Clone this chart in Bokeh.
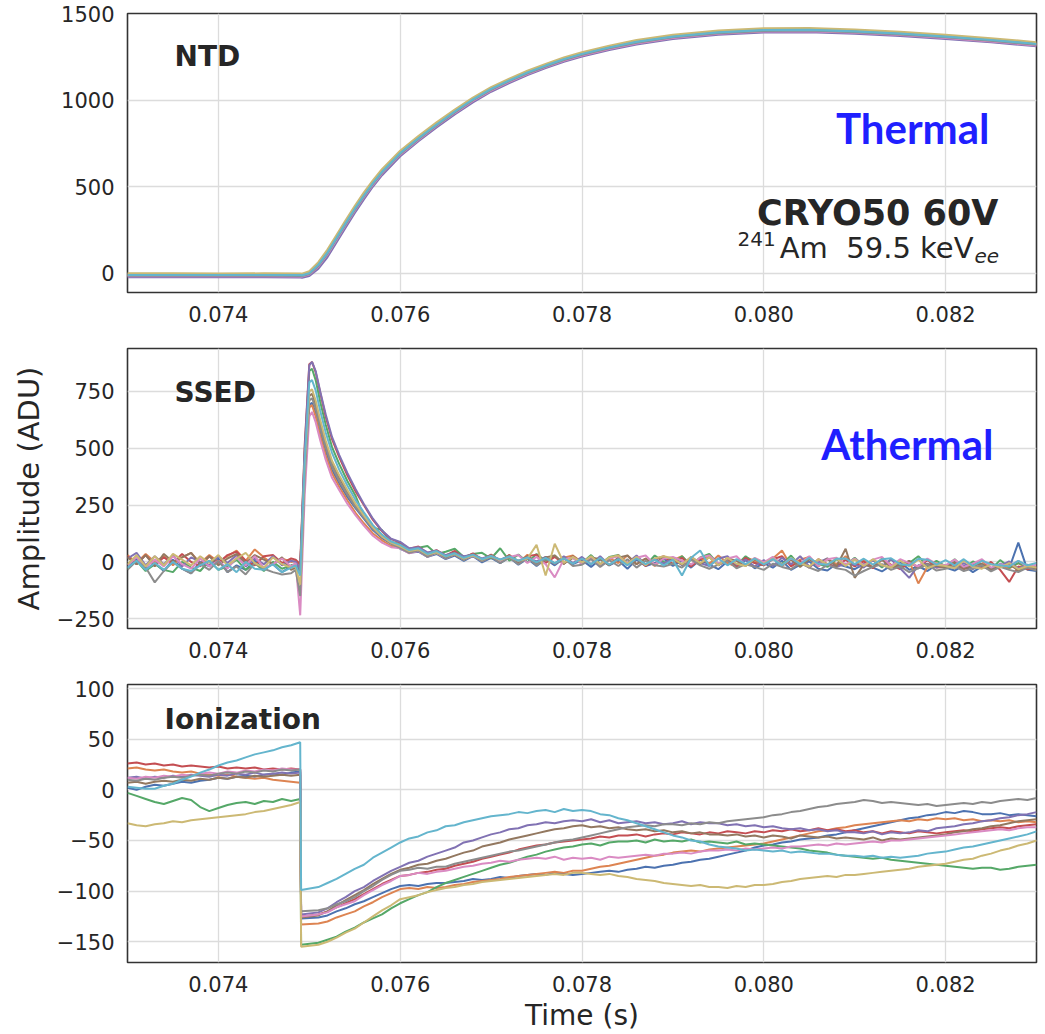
import numpy as np
from bokeh.plotting import figure
from bokeh.models import Range1d, FixedTicker, CustomJSTickFormatter, Label
from bokeh.layouts import column
from bokeh.embed import file_html
from bokeh.resources import INLINE

# ---------------- styling constants ----------------
trace_names = ["blue", "orange", "green", "red", "purple", "brown", "pink", "gray", "tan", "cyan"]
trace_colors = ["#4C72B0", "#DD8452", "#55A868", "#C44E52", "#8172B3",
                "#937860", "#DA8BC3", "#8C8C8C", "#CCB974", "#64B5CD"]

x_ticks = [0.074, 0.076, 0.078, 0.080, 0.082]
ntd_yticks = [0, 500, 1000, 1500]
ssed_yticks = [-250, 0, 250, 500, 750]
ion_yticks = [-150, -100, -50, 0, 50, 100]

# ---------------- NTD (thermal) ----------------
t_ntd = [0.0730, 0.0735, 0.0740, 0.0745, 0.0749, 0.07492, 0.0750, 0.0751, 0.0752, 0.0753,
         0.0754, 0.0755, 0.0756, 0.0757, 0.0758, 0.0760, 0.0762, 0.0764, 0.0766, 0.0768,
         0.0770, 0.0772, 0.0774, 0.0776, 0.0778, 0.0780, 0.0783, 0.0786, 0.0790, 0.0795,
         0.0800, 0.0805, 0.0810, 0.0815, 0.0820, 0.0825, 0.0830]
ntd_blue = [-12,-11,-12,-12,-13,-14,-3,45,114,199,284,366,444,516,582,690,775,855,930,1000,1060,1110,1155,1195,1232,1262,1300,1332,1363,1387,1400,1402,1393,1380,1363,1343,1320]
ntd_orange = [-6,-7,-6,-5,-7,-8,4,53,123,208,293,375,453,525,590,698,783,863,938,1008,1068,1118,1163,1203,1240,1270,1308,1340,1371,1395,1408,1410,1401,1388,1371,1351,1328]
ntd_green = [-8,-9,-8,-8,-9,-10,2,50,121,206,291,373,451,523,588,696,781,861,936,1006,1066,1116,1161,1201,1238,1268,1306,1338,1369,1393,1406,1408,1399,1386,1369,1349,1326]
ntd_red = [-14,-13,-14,-14,-15,-16,-4,43,112,197,282,364,442,514,580,688,773,853,928,998,1058,1108,1153,1193,1230,1260,1298,1330,1361,1385,1398,1400,1391,1378,1361,1341,1318]
ntd_purple = [-22,-21,-22,-22,-23,-24,-14,28,95,180,265,349,428,502,567,677,763,843,918,988,1049,1099,1145,1185,1222,1252,1290,1322,1354,1378,1391,1393,1384,1371,1354,1334,1311]
ntd_brown = [-10,-10,-10,-11,-11,-12,0,48,118,203,288,370,448,520,585,693,778,858,933,1003,1063,1113,1158,1198,1235,1265,1303,1335,1366,1390,1403,1405,1396,1383,1366,1346,1323]
ntd_pink = [-16,-16,-15,-16,-17,-18,-6,41,110,195,280,362,440,512,578,686,771,851,926,996,1056,1106,1151,1191,1228,1258,1296,1328,1359,1383,1396,1398,1389,1376,1359,1339,1316]
ntd_gray = [-13,-13,-13,-12,-14,-15,-3,45,115,200,285,367,445,517,582,690,775,855,930,1000,1060,1110,1155,1195,1232,1262,1300,1332,1363,1387,1400,1402,1393,1380,1363,1343,1320]
ntd_tan = [0,0,-1,0,-1,-2,12,65,137,222,307,389,466,537,601,708,792,871,945,1014,1074,1124,1169,1209,1246,1276,1314,1346,1377,1401,1414,1416,1407,1394,1377,1357,1334]
ntd_cyan = [-9,-9,-9,-9,-10,-11,1,50,120,205,290,372,449,521,586,694,779,859,934,1004,1064,1114,1159,1199,1236,1266,1304,1336,1367,1391,1404,1406,1397,1384,1367,1347,1324]

# ---------------- SSED (athermal) ----------------
t_ssed_pre = [round(0.0730 + 0.0001 * k, 5) for k in range(19)]
t_ssed_pulse = [0.07485, 0.07490, 0.07495, 0.07500, 0.07503, 0.07507, 0.07512, 0.07518,
                0.07525, 0.07533, 0.07542, 0.07551, 0.07560, 0.07570, 0.07580, 0.07590]
t_ssed_post = [round(0.0760 + 0.0001 * k, 5) for k in range(71)]
t_ssed = t_ssed_pre + t_ssed_pulse + t_ssed_post

ssed_blue = ([-25, 15, -35, -5, -40, 10, -30, -50, 0, -20, 15, -45, -15, -35, 5, -30, -10, -45, -20]
             + [-20, -40, 390, 690, 700, 655, 575, 490, 405, 345, 285, 235, 190, 140, 105, 80]
             + [58, 40, 45, 22, 35, 12, 28, 5, 25, -2,
                18, -5, 20, -12, 14, -18, 12, -15, 16, -10,
                8, -22, 12, -15, 6, -30, 10, -18, -5, 14,
                -18, 5, -25, 10, -12, -32, 2, -22, 8, -28,
                -5, -25, 5, -35, -12, 2, -30, -38, -8, -20,
                -32, -10, -25, -42, -15, 0, -35, -18, -40, -12,
                -25, -38, -15, -45, -20, -35, -8, -28, 85, -35, -40])
ssed_orange = ([30, -5, 35, 0, 25, -15, 20, 40, -5, 30, 0, 25, 50, 5, 55, 20, -10, 15, 0]
               + [5, -20, 400, 680, 690, 640, 555, 470, 390, 330, 270, 215, 170, 125, 95, 70]
               + [70, 45, 55, 28, 40, 18, 32, 10, 28, 5,
                  25, 0, 30, -5, 32, -10, 22, -8, 18, 28,
                  -2, 22, -15, 18, -5, 28, -10, 15, -18, 20,
                  8, 25, -15, 18, -8, 28, -5, -20, 20, 5,
                  -10, 15, 50, -18, 10, 22, -20, 12, -10, 25,
                  -15, 8, -25, 15, -12, -28, 5, -95, -22, -5,
                  -25, 10, -32, -10, 5, -38, -15, -28, -5, -32, -20])
ssed_green = ([-30, 5, -40, -10, -35, -45, 0, -25, -40, 5, -35, -20, 10, -35, -5, -40, 0, -30, -15]
              + [-10, -30, 480, 840, 850, 800, 705, 605, 505, 430, 355, 290, 200, 150, 140, 88]
              + [80, 52, 62, 70, 35, 45, 58, 22, 35, 40,
                 15, 60, 5, 32, -2, 35, 5, 28, -8, 25,
                 -5, 30, -10, 22, 30, -8, 20, -15, 28, 0,
                 -8, 25, -18, 20, 35, -10, 15, -15, 25, -5,
                 -15, 20, -10, 28, -18, 15, -8, -22, 12, -15,
                 18, -18, 8, -25, 12, -20, -5, 25, -18, 5,
                 -20, 12, -28, 2, -15, -32, 8, -25, -5, -20, -28])
ssed_red = ([25, -10, 30, -15, 20, -5, 35, 0, -20, 25, -5, 30, 45, 5, -15, 25, 30, -5, 15]
            + [10, -10, 520, 870, 880, 835, 745, 640, 540, 460, 380, 310, 250, 185, 135, 100]
            + [85, 58, 68, 38, 52, 28, 48, 18, 38, 10,
               32, 5, 30, -2, 25, 32, -5, 22, -8, 25,
               -5, 22, -15, 15, 28, -12, 20, -18, 12, 25,
               -10, 18, -20, 12, 28, -15, 10, -22, 18, -5,
               -15, 12, 25, -20, 5, -25, 12, -10, -22, 10,
               -20, 2, -28, 10, -15, -32, -5, -22, 8, -25,
               -22, -8, -32, -15, -28, 0, -35, -88, -20, -32, -28])
ssed_purple = ([15, 40, -15, 25, -10, 30, -20, 20, 0, -15, 25, -5, 30, -20, 15, -10, 25, -15, 5]
               + [0, -30, 500, 865, 880, 840, 750, 650, 550, 470, 390, 320, 255, 190, 138, 102]
               + [88, 60, 65, 42, 50, 30, 40, 25, 32, 15,
                  28, 10, 25, 5, 20, 2, 22, -8, 25, -5,
                  22, -10, 25, -15, 18, -5, 28, -12, 15, -8,
                  18, -15, 22, -5, -18, 15, 25, -12, 10, -20,
                  8, -18, 18, -10, 25, -20, -2, 15, -22, -8,
                  -12, -25, 8, -18, 12, -28, -70, -15, -8, -25,
                  -15, -28, -5, -32, -12, -35, -18, 2, -30, -12, -25])
ssed_brown = ([20, -10, 30, -20, 35, 0, 20, 40, -10, 25, -15, 15, 35, -5, 30, 10, -10, 20, -35]
              + [-25, -50, 410, 730, 740, 695, 610, 520, 435, 370, 305, 250, 200, 150, 110, 85]
              + [66, 45, 55, 28, 48, 20, 40, 15, 32, 8,
                 30, 2, 28, 0, 25, -5, 20, 28, -8, 18,
                 -8, 20, 12, -15, 18, 28, -10, 15, -12, 20,
                 12, -12, 18, -10, 22, -15, 15, 5, -18, 12,
                 -10, 18, -18, 10, -22, 12, -15, 15, -20, 58,
                 -70, -12, -22, 10, -25, -15, 5, -28, -10, -18,
                 -25, 0, -30, -15, -8, -35, -20, -10, -38, -22, -30])
ssed_pink = ([-15, 20, -25, 10, -20, 25, -10, -30, 15, -20, 5, -30, 20, -15, 25, -25, -10, 15, -20]
             + [-5, -235, 300, 640, 660, 615, 535, 450, 370, 315, 255, 205, 160, 115, 85, 65]
             + [60, 38, 48, 22, 40, 15, 35, 10, 28, 5,
                25, 0, 22, 30, -5, 22, -10, -68, 12, 18,
                -8, 22, -15, 15, 25, -5, 18, 28, -12, 15,
                22, 5, -12, 18, 28, -8, 15, 25, -15, 18,
                -2, 22, -15, 15, -8, 25, -18, 12, 18, -12,
                15, -15, 10, 22, -18, 12, -5, -20, 15, -10,
                -15, 10, -22, -8, 12, -25, -10, -18, 5, -22, -12])
ssed_gray = ([-35, 5, -25, -90, -40, 0, -30, -50, -10, -35, 5, -45, -20, -55, -5, -30, -45, -55, -50]
             + [-35, -150, 380, 710, 720, 675, 590, 505, 420, 355, 295, 240, 195, 145, 110, 80]
             + [62, 40, 50, 22, 42, 15, 35, 8, 30, 2,
                22, -5, 20, -10, 18, -15, 12, -8, 16, -18,
                -12, 12, -22, 8, -18, 12, -25, 5, -15, -20,
                -8, -25, 10, -15, -30, -12, 5, -28, -10, -22,
                -35, -8, -22, -32, -5, -25, -40, -12, -28, -35,
                -60, -40, -22, -10, -35, -20, -45, -28, -12, -38,
                -30, -18, -40, -28, -15, -42, -22, -35, -45, -25, -38])
ssed_tan = ([-10, 30, -20, 25, -15, 35, 10, -15, 25, -5, 30, -15, 15, 40, -5, -25, 20, -10, -25]
            + [-20, -100, 430, 750, 760, 710, 625, 535, 445, 380, 315, 255, 205, 152, 112, 85]
            + [68, 48, 55, 32, 42, 25, 35, 15, 28, 10,
               25, 8, 22, 5, 15, 75, -60, 80, -5, 22,
               -2, 25, -10, 20, 28, -8, 22, -15, 15, 25,
               15, -10, 22, -5, 20, -15, 18, -8, -18, 15,
               -8, 15, -15, 18, -5, -20, 12, -12, 15, -18,
               10, -18, 12, -15, -25, 5, -20, 10, -28, -12,
               -18, -28, 5, -22, -30, -10, -25, -5, -32, -18, -25])
ssed_cyan = ([-25, 5, -35, -5, -35, 0, -30, -40, -15, 5, -35, -10, -45, 0, -30, -35, -10, -45, -25]
             + [-15, -60, 450, 790, 800, 755, 665, 570, 480, 405, 335, 272, 218, 162, 120, 90]
             + [75, 52, 60, 35, 48, 25, 38, 18, 32, 12,
                26, 10, 24, 5, 20, -2, 18, -5, 16, -8,
                15, -10, 18, -12, 12, -15, 15, -10, 10, -15,
                10, -60, 18, 50, -18, 15, -15, 12, -10, 15,
                -12, 12, -15, 16, -10, 18, -8, -12, 14, 15,
                -10, 14, -12, 12, 16, -10, -15, 14, 10, -12,
                8, -15, 12, -18, 5, -10, -15, -20, 5, -15, -5])

# ---------------- Ionization ----------------
t_ion_pre = [round(0.0730 + 0.0001 * k, 5) for k in range(20)]
t_ion_post = [0.07491] + [round(0.0751 + 0.0001 * k, 5) for k in range(80)]
t_ion = t_ion_pre + t_ion_post

ion_blue = ([2, 0, 3, 5, 4, 6, 8, 7, 9, 10, 12, 11, 13, 14, 13, 15, 16, 15, 17, 18]
            + [-127, -126, -124, -120, -117, -113, -110, -106, -102, -98,
               -95, -94, -95, -93, -92, -92, -91, -90, -88, -89,
               -88, -86, -87, -85, -84, -83, -84, -82, -83, -84,
               -83, -82, -81, -80, -81, -79, -78, -76, -77, -75,
               -74, -72, -71, -69, -68, -66, -64, -62, -60, -57,
               -55, -54, -52, -51, -49, -48, -47, -45, -44, -42,
               -40, -38, -36, -34, -32, -30, -28, -27, -25, -24,
               -22, -23, -21, -22, -24, -24, -23, -25, -24, -25, -26])
ion_orange = ([21, 22, 20, 19, 20, 18, 17, 18, 16, 15, 14, 15, 13, 12, 11, 12, 10, 9, 8, 7]
              + [-133, -132, -130, -126, -123, -120, -115, -111, -106, -102,
                 -98, -97, -98, -96, -97, -96, -94, -93, -91, -90,
                 -89, -88, -86, -85, -84, -83, -82, -81, -82, -80,
                 -80, -78, -76, -75, -73, -71, -69, -67, -65, -64,
                 -62, -61, -60, -61, -59, -58, -57, -56, -55, -54,
                 -53, -51, -49, -47, -45, -43, -41, -40, -38, -37,
                 -35, -34, -33, -32, -31, -30, -31, -29, -30, -28,
                 -29, -28, -30, -29, -31, -30, -31, -30, -32, -31, -32])
ion_green = ([-3, -6, -9, -12, -14, -11, -8, -10, -17, -21, -18, -15, -13, -12, -14, -11, -12, -9, -11, -9]
             + [-153, -151, -148, -145, -140, -136, -131, -127, -123, -117,
                -112, -108, -104, -101, -96, -92, -89, -86, -83, -80,
                -77, -74, -72, -69, -66, -64, -61, -59, -57, -56,
                -54, -53, -55, -52, -51, -51, -50, -52, -49, -51,
                -50, -51, -49, -52, -51, -52, -53, -51, -54, -53,
                -54, -55, -56, -57, -58, -60, -61, -62, -64, -65,
                -66, -67, -68, -67, -69, -70, -71, -72, -73, -74,
                -75, -76, -77, -78, -77, -77, -79, -78, -76, -75, -74])
ion_red = ([26, 27, 25, 26, 24, 25, 23, 24, 23, 22, 23, 21, 22, 21, 22, 20, 21, 20, 21, 20]
           + [-125, -123, -120, -116, -112, -108, -103, -98, -93, -89,
              -85, -84, -82, -81, -79, -78, -75, -73, -71, -68,
              -66, -64, -62, -59, -57, -55, -54, -52, -51, -50,
              -49, -48, -46, -47, -45, -45, -44, -46, -44, -43,
              -44, -42, -43, -44, -42, -43, -41, -42, -43, -41,
              -42, -40, -41, -39, -41, -40, -38, -40, -39, -41,
              -40, -42, -41, -43, -41, -42, -43, -41, -42, -43,
              -42, -41, -40, -41, -39, -38, -37, -38, -36, -35, -34])
ion_purple = ([12, 13, 11, 13, 12, 14, 13, 15, 14, 13, 15, 14, 16, 15, 17, 15, 16, 17, 16, 17]
              + [-123, -121, -117, -111, -106, -100, -96, -90, -85, -80,
                 -76, -72, -70, -66, -63, -60, -57, -52, -50, -47,
                 -44, -42, -39, -38, -35, -34, -32, -33, -31, -30,
                 -31, -29, -32, -30, -33, -32, -31, -33, -32, -34,
                 -33, -31, -34, -32, -33, -33, -35, -34, -36, -35,
                 -37, -36, -38, -39, -38, -40, -39, -41, -40, -42,
                 -42, -43, -41, -44, -42, -43, -42, -40, -41, -38,
                 -37, -36, -34, -33, -31, -30, -28, -27, -25, -24, -22])
ion_brown = ([7, 8, 6, 8, 9, 8, 10, 9, 11, 10, 12, 11, 13, 12, 14, 13, 14, 15, 14, 15]
             + [-126, -124, -120, -114, -109, -104, -99, -93, -88, -83,
                -79, -77, -74, -73, -70, -68, -65, -62, -60, -56,
                -54, -52, -49, -47, -45, -43, -41, -39, -38, -36,
                -35, -37, -36, -38, -37, -39, -40, -39, -41, -40,
                -42, -41, -43, -42, -44, -44, -45, -44, -46, -45,
                -47, -45, -46, -48, -45, -46, -47, -46, -48, -47,
                -48, -49, -47, -50, -48, -49, -48, -47, -46, -45,
                -44, -42, -41, -39, -38, -36, -35, -33, -31, -30, -29])
ion_pink = ([12, 11, 13, 12, 14, 13, 15, 14, 16, 17, 16, 18, 17, 19, 18, 20, 19, 21, 20, 20]
            + [-125, -123, -121, -116, -113, -110, -104, -99, -94, -90,
               -85, -84, -82, -83, -81, -80, -78, -76, -75, -73,
               -72, -70, -71, -69, -68, -67, -68, -66, -69, -67,
               -68, -67, -69, -66, -67, -66, -65, -64, -65, -63,
               -63, -62, -63, -61, -60, -60, -59, -60, -58, -59,
               -58, -57, -58, -56, -56, -55, -54, -55, -53, -54,
               -53, -52, -51, -52, -50, -50, -49, -48, -47, -46,
               -45, -44, -43, -42, -41, -40, -39, -40, -38, -37, -37])
ion_gray = ([10, 9, 11, 10, 12, 13, 12, 14, 15, 14, 16, 17, 16, 18, 17, 19, 18, 20, 19, 20]
            + [-120, -119, -117, -113, -110, -106, -100, -95, -89, -84,
               -80, -79, -77, -78, -76, -76, -73, -71, -69, -67,
               -65, -63, -61, -60, -58, -56, -54, -52, -50, -49,
               -47, -45, -43, -41, -39, -37, -36, -35, -36, -34,
               -34, -35, -33, -34, -32, -33, -31, -30, -29, -28,
               -27, -25, -24, -22, -21, -19, -17, -16, -14, -13,
               -12, -10, -11, -13, -12, -13, -14, -15, -14, -16,
               -15, -14, -13, -14, -12, -13, -11, -10, -9, -10, -8])
ion_tan = ([-33, -35, -36, -34, -33, -31, -32, -30, -29, -28, -27, -26, -25, -24, -22, -21, -19, -17, -15, -12]
           + [-155, -153, -150, -146, -141, -137, -131, -125, -119, -114,
              -108, -106, -104, -101, -99, -97, -96, -94, -93, -91,
              -90, -89, -88, -87, -86, -85, -84, -83, -84, -82,
              -82, -83, -84, -83, -85, -86, -88, -89, -90, -92,
              -93, -94, -95, -94, -96, -96, -97, -95, -96, -94,
              -94, -93, -91, -90, -88, -87, -86, -85, -86, -84,
              -84, -83, -82, -81, -80, -79, -78, -76, -75, -74,
              -73, -71, -69, -68, -65, -63, -60, -58, -55, -53, -50])
ion_cyan = ([3, 2, 1, 1, 4, 6, 10, 13, 17, 20, 24, 27, 29, 32, 35, 37, 39, 42, 44, 47]
            + [-99, -96, -92, -88, -83, -78, -74, -67, -62, -57,
               -52, -48, -46, -42, -40, -36, -35, -32, -30, -28,
               -26, -25, -24, -22, -23, -21, -20, -22, -19, -21,
               -20, -21, -24, -25, -28, -30, -33, -36, -39, -42,
               -45, -47, -50, -51, -54, -56, -57, -58, -60, -59,
               -60, -61, -60, -62, -61, -62, -63, -63, -64, -65,
               -65, -66, -65, -67, -66, -67, -66, -65, -63, -62,
               -61, -59, -57, -56, -54, -52, -50, -48, -46, -44, -41])

ntd_traces = [ntd_blue, ntd_orange, ntd_green, ntd_red, ntd_purple,
              ntd_brown, ntd_pink, ntd_gray, ntd_tan, ntd_cyan]
ssed_traces = [ssed_blue, ssed_orange, ssed_green, ssed_red, ssed_purple,
               ssed_brown, ssed_pink, ssed_gray, ssed_tan, ssed_cyan]
ion_traces = [ion_blue, ion_orange, ion_green, ion_red, ion_purple,
              ion_brown, ion_pink, ion_gray, ion_tan, ion_cyan]

TXT = "#262626"
FONT = "DejaVu Sans"
BLUE_TXT = "#1f1fff"

xfmt = "return tick.toFixed(3);"
yfmt = "return (tick < 0 ? '\u2212' : '') + Math.abs(tick).toFixed(0);"


def make_fig(height, top, bottom, yr, yticks):
    p = figure(width=1045, height=height, x_range=Range1d(0.073, 0.083), y_range=Range1d(*yr),
               output_backend="svg", toolbar_location=None,
               min_border_left=127, min_border_right=9, min_border_top=top, min_border_bottom=bottom)
    p.outline_line_color = "#333333"
    p.outline_line_width = 1.6
    p.xaxis.ticker = FixedTicker(ticks=x_ticks)
    p.yaxis.ticker = FixedTicker(ticks=yticks)
    p.xaxis.formatter = CustomJSTickFormatter(code=xfmt)
    p.yaxis.formatter = CustomJSTickFormatter(code=yfmt)
    for ax in p.axis:
        ax.axis_line_color = None
        ax.major_tick_line_color = None
        ax.minor_tick_line_color = None
        ax.major_tick_out = 0
        ax.major_tick_in = 0
        ax.minor_tick_out = 0
        ax.major_label_text_font = FONT
        ax.major_label_text_font_size = "21px"
        ax.major_label_text_color = TXT
    p.xaxis.major_label_standoff = 13
    p.yaxis.major_label_standoff = 13
    p.grid.grid_line_color = "#dcdcdc"
    p.grid.grid_line_width = 1.3
    p.background_fill_color = "white"
    p.border_fill_color = "white"
    return p


def add_label(p, x, y, text, size, style="normal", color=TXT, align="left",
              baseline="alphabetic", font=FONT):
    p.add_layout(Label(x=x, y=y, text=text, text_font=font, text_font_size=size,
                       text_font_style=style, text_color=color, text_align=align,
                       text_baseline=baseline))


# ---- panel 1: NTD ----
p1 = make_fig(332, 13, 40, (-110, 1500), ntd_yticks)
for ys, c in zip(ntd_traces, trace_colors):
    n = min(len(t_ntd), len(ys))
    p1.line(t_ntd[:n], ys[:n], line_color=c, line_width=2.2)
add_label(p1, 0.073517, 1252, "NTD", "28px", "bold", baseline="middle")
add_label(p1, 0.082483, 837, "Thermal", "42px", "bold", color=BLUE_TXT, align="right", font="Lato")
add_label(p1, 0.08258, 346, "CRYO50 60V", "35px", "bold", align="right")
add_label(p1, 0.082307, 144, "Am\u00a0\u00a059.5 keV", "29px", align="right")
add_label(p1, 0.079711, 196, "241", "20px")
add_label(p1, 0.082318, 103, "ee", "20px", "italic")

# ---- panel 2: SSED ----
p2 = make_fig(336, 16, 40, (-293, 939), ssed_yticks)
for ys, c in zip(ssed_traces, trace_colors):
    n = min(len(t_ssed), len(ys))
    p2.line(t_ssed[:n], ys[:n], line_color=c, line_width=2.0)
p2.yaxis.axis_label = "Amplitude (ADU)"
p2.yaxis.axis_label_text_font = FONT
p2.yaxis.axis_label_text_font_size = "29px"
p2.yaxis.axis_label_text_font_style = "normal"
p2.yaxis.axis_label_text_color = TXT
p2.yaxis.axis_label_standoff = 8
add_label(p2, 0.073517, 746, "SSED", "28px", "bold", baseline="middle")
add_label(p2, 0.082527, 521, "Athermal", "42px", "bold", color=BLUE_TXT, align="right", font="Lato")

# ---- panel 3: Ionization ----
p3 = make_fig(366, 16, 70, (-170.5, 104), ion_yticks)
for ys, c in zip(ion_traces, trace_colors):
    n = min(len(t_ion), len(ys))
    p3.line(t_ion[:n], ys[:n], line_color=c, line_width=2.0)
p3.xaxis.axis_label = "Time (s)"
p3.xaxis.axis_label_text_font = FONT
p3.xaxis.axis_label_text_font_size = "28px"
p3.xaxis.axis_label_text_font_style = "normal"
p3.xaxis.axis_label_text_color = TXT
p3.xaxis.axis_label_standoff = 4
add_label(p3, 0.073407, 69.6, "Ionization", "28px", "bold", baseline="middle")

layout = column(p1, p2, p3, spacing=0)
with open("out.html", "w", encoding="utf-8") as f:
    f.write(file_html(layout, INLINE))
